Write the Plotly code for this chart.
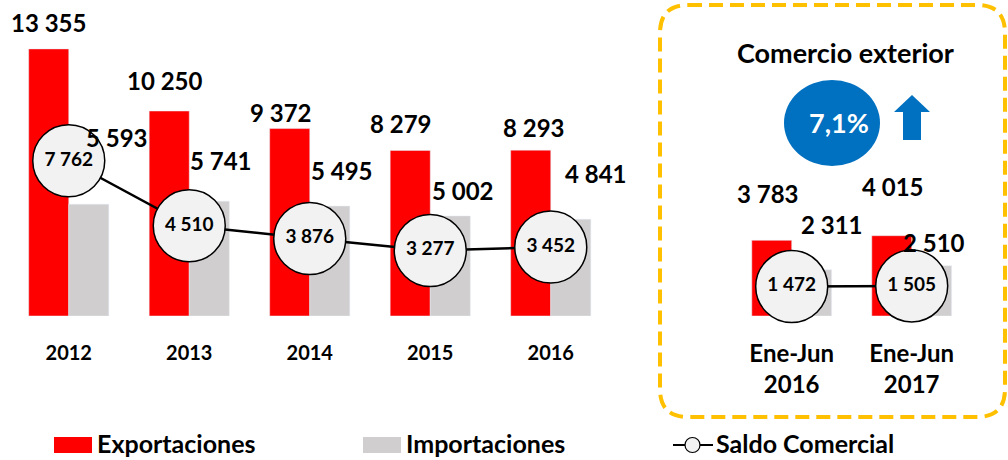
import plotly.graph_objects as go

# ---------------- data ----------------
years = ["2012", "2013", "2014", "2015", "2016"]
exports_y = [13355, 10250, 9372, 8279, 8293]
imports_y = [5593, 5741, 5495, 5002, 4841]
saldo_y = [7762, 4510, 3876, 3277, 3452]

periods = ["Ene-Jun<br>2016", "Ene-Jun<br>2017"]
exports_p = [3783, 4015]
imports_p = [2311, 2510]
saldo_p = [1472, 1505]

growth_label = "7,1%"
box_title = "Comercio exterior"
legend_names = ["Exportaciones", "Importaciones", "Saldo Comercial"]

# label nudges (px) relative to the top of each bar: (dx, dy)
exp_nudge_y = [(0, 26), (-4, 31), (-9, 16), (-9, 27), (3, 23)]
imp_nudge_y = [(28, 67), (12, 41), (12, 36), (13, 25), (25, 46)]
exp_nudge_p = [(-4, 47), (1, 49)]
imp_nudge_p = [(20, 45), (2, 23)]

# ---------------- style ----------------
RED = "#FF0000"
GRAY = "#D0CECE"
BLUE = "#0070C0"
GOLD = "#FFC000"
FONT = "Lato"
W, H = 1008, 460
BASE = 316  # pixel row of the value axis zero
B = H - BASE


def fmt(v):
    return f"{v:,}".replace(",", " ")


def px(x):
    return x / W


def py(y):
    return (BASE - y) / BASE


fig = go.Figure()

fig.add_trace(go.Bar(x=years, y=exports_y, marker_color=RED, xaxis="x", yaxis="y",
                     name=legend_names[0], showlegend=False, hoverinfo="skip"))
fig.add_trace(go.Bar(x=years, y=imports_y, marker_color=GRAY, xaxis="x", yaxis="y",
                     name=legend_names[1], showlegend=False, hoverinfo="skip"))
fig.add_trace(go.Bar(x=periods, y=exports_p, marker_color=RED, xaxis="x2", yaxis="y",
                     showlegend=False, hoverinfo="skip"))
fig.add_trace(go.Bar(x=periods, y=imports_p, marker_color=GRAY, xaxis="x2", yaxis="y",
                     showlegend=False, hoverinfo="skip"))

circle_style = dict(size=72, color="#F2F2F2", line=dict(color="black", width=1.5))
for xs, ys, xa in [(years, saldo_y, "x"), (periods, saldo_p, "x2")]:
    fig.add_trace(go.Scatter(
        x=xs, y=ys, xaxis=xa, yaxis="y", mode="lines+markers+text",
        line=dict(color="black", width=2.5), marker=circle_style,
        text=[fmt(v) for v in ys], textposition="middle center",
        textfont=dict(family=FONT, size=19, color="black", weight="bold"),
        cliponaxis=False, showlegend=False, hoverinfo="skip"))

annotations = []


def bar_labels(xs, vals, nudges, xref, side):
    # category index is used as x so that year-like names are not read as numbers
    for i, (v, (dx, dy)) in enumerate(zip(vals, nudges)):
        annotations.append(dict(
            x=i, y=v, xref=xref, yref="y", text=f"<b>{fmt(v)}</b>",
            showarrow=False, xanchor="center", yanchor="middle",
            xshift=side * 20 + dx, yshift=dy,
            font=dict(family=FONT, size=24, color="black")))


bar_labels(years, exports_y, exp_nudge_y, "x", -1)
bar_labels(years, imports_y, imp_nudge_y, "x", 1)
bar_labels(periods, exports_p, exp_nudge_p, "x2", -1)
bar_labels(periods, imports_p, imp_nudge_p, "x2", 1)

# box title and growth bubble
annotations.append(dict(x=px(845), y=py(52), xref="paper", yref="paper",
                        xanchor="center", yanchor="middle",
                        text=f"<b>{box_title}</b>", showarrow=False,
                        font=dict(family=FONT, size=27, color="black")))
annotations.append(dict(x=px(839), y=py(123), xref="paper", yref="paper",
                        xanchor="center", yanchor="middle",
                        text=f"<b>{growth_label}</b>", showarrow=False,
                        font=dict(family=FONT, size=27, color="white")))

shapes = []
# dashed rounded frame
x0, x1, y0, y1, r = 660, 1005, 5, 417, 28
path = (f"M {px(x0 + r)},{py(y0)} L {px(x1 - r)},{py(y0)} "
        f"Q {px(x1)},{py(y0)} {px(x1)},{py(y0 + r)} "
        f"L {px(x1)},{py(y1 - r)} Q {px(x1)},{py(y1)} {px(x1 - r)},{py(y1)} "
        f"L {px(x0 + r)},{py(y1)} Q {px(x0)},{py(y1)} {px(x0)},{py(y1 - r)} "
        f"L {px(x0)},{py(y0 + r)} Q {px(x0)},{py(y0)} {px(x0 + r)},{py(y0)} Z")
shapes.append(dict(type="path", path=path, xref="paper", yref="paper",
                   line=dict(color=GOLD, width=4, dash="14px,7px"), layer="below"))
# ellipse
shapes.append(dict(type="circle", xref="paper", yref="paper",
                   x0=px(784), x1=px(880), y0=py(166), y1=py(80),
                   fillcolor=BLUE, line=dict(width=0), layer="below"))
# up arrow
pts = [(903, 140), (903, 112), (894, 112), (912, 95), (930, 112), (921, 112), (921, 140)]
arrow = "M " + " L ".join(f"{px(a)},{py(b)}" for a, b in pts) + " Z"
shapes.append(dict(type="path", path=arrow, xref="paper", yref="paper",
                   fillcolor=BLUE, line=dict(width=0)))

# custom legend
LY = 445
for (lx0, lx1), col in [((54, 92), RED), ((363, 401), GRAY)]:
    shapes.append(dict(type="rect", xref="paper", yref="paper",
                       x0=px(lx0), x1=px(lx1), y0=py(453), y1=py(437),
                       fillcolor=col, line=dict(width=0)))
shapes.append(dict(type="line", xref="paper", yref="paper",
                   x0=px(673), x1=px(713), y0=py(LY), y1=py(LY),
                   line=dict(color="black", width=2)))
shapes.append(dict(type="circle", xref="paper", yref="paper",
                   x0=px(685), x1=px(700), y0=py(LY + 7.5), y1=py(LY - 7.5),
                   fillcolor="#F2F2F2", line=dict(color="black", width=1.2)))
for tx, name in zip([95, 404, 714], legend_names):
    annotations.append(dict(x=px(tx), y=py(LY - 2.5), xref="paper", yref="paper",
                            text=f"<b>{name}</b>", showarrow=False,
                            xanchor="left", yanchor="middle",
                            font=dict(family=FONT, size=25, color="black")))

axis_common = dict(showgrid=False, zeroline=False, showline=False,
                   ticks="outside", tickcolor="rgba(0,0,0,0)",
                   type="category", fixedrange=True)

fig.update_layout(
    width=W, height=H,
    margin=dict(l=0, r=0, t=0, b=B, pad=0),
    paper_bgcolor="white", plot_bgcolor="white",
    barmode="group", bargap=0.335, bargroupgap=0,
    showlegend=False,
    xaxis=dict(domain=[px(8.5), px(611)], range=[-0.5, 4.5],
               categoryorder="array", categoryarray=years, ticklen=19,
               tickfont=dict(family=FONT, size=20, color="black", weight="bold"),
               anchor="y", **axis_common),
    xaxis2=dict(domain=[px(731.7), px(971.7)], range=[-0.5, 1.5],
                categoryorder="array", categoryarray=periods, ticklen=16,
                tickfont=dict(family=FONT, size=24, color="black", weight="bold"),
                anchor="y", **axis_common),
    yaxis=dict(domain=[0, 1], range=[0, BASE / 0.02], visible=False, fixedrange=True),
    shapes=shapes, annotations=annotations,
)

fig.write_html("out.html", config={"displayModeBar": False},
               post_script="document.body.style.margin='0';")
